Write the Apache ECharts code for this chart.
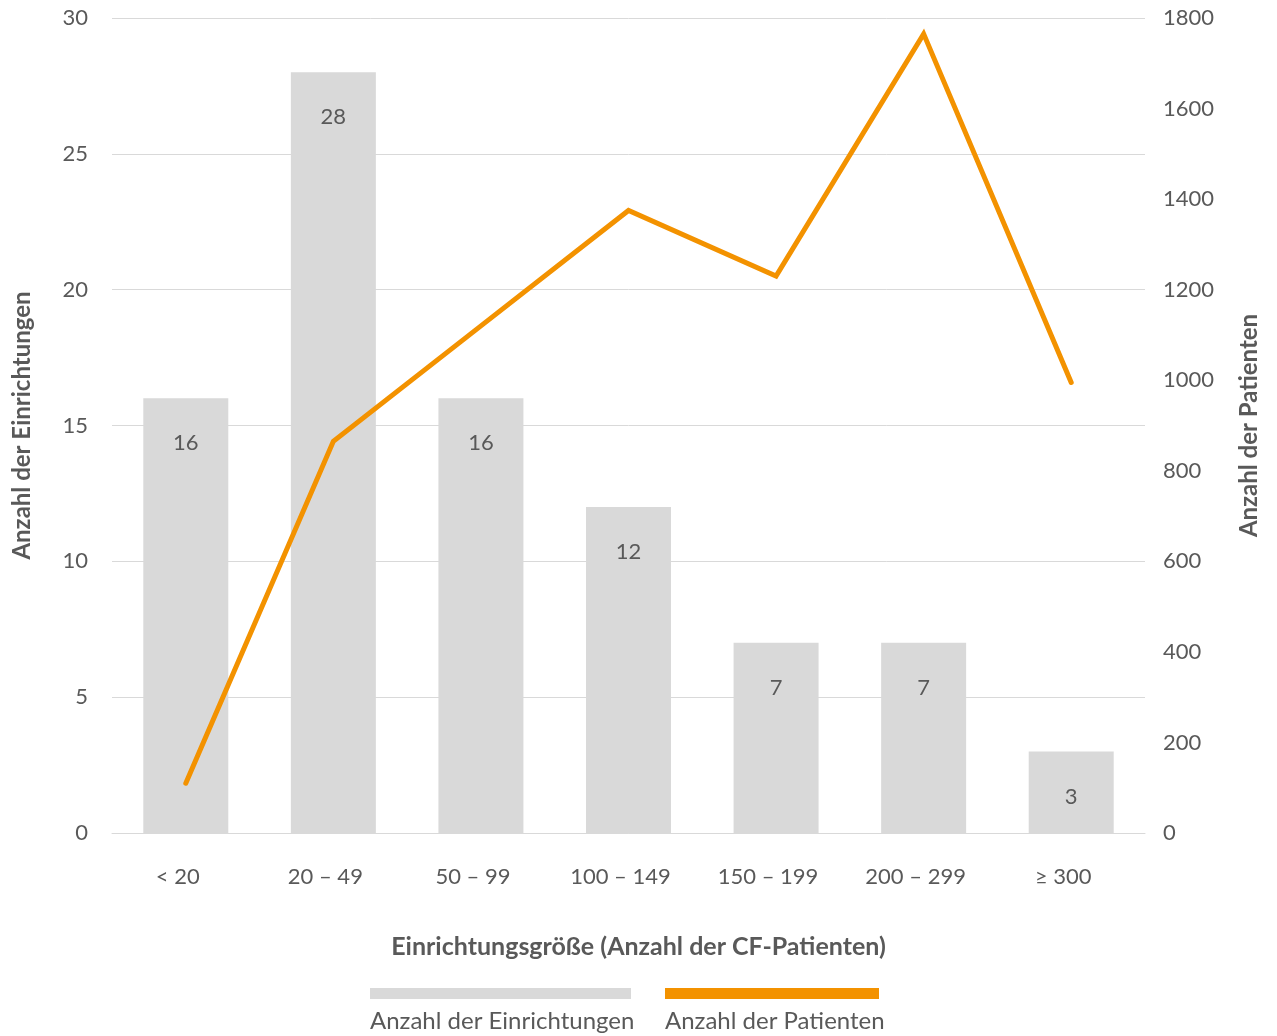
<!DOCTYPE html>
<html>
<head>
<meta charset="utf-8">
<script src="https://cdn.jsdelivr.net/npm/echarts@6/dist/echarts.min.js"></script>
<style>
  html, body { margin: 0; padding: 0; background: #ffffff; }
  #chart { width: 1277px; height: 1036px; }
</style>
</head>
<body>
<div id="chart"></div>
<script>
// Einrichtungsgröße (Anzahl der CF-Patienten)
const categories = ['< 20', '20 – 49', '50 – 99', '100 – 149', '150 – 199', '200 – 299', '≥ 300'];
// Anzahl der Einrichtungen je Größenklasse (linke Achse)
const einrichtungen = [16, 28, 16, 12, 7, 7, 3];
// Anzahl der Patienten je Größenklasse (rechte Achse)
const patienten = [110, 865, 1120, 1375, 1230, 1765, 995];

const seriesNames = ['Anzahl der Einrichtungen', 'Anzahl der Patienten'];

const FONT = 'Lato, "Open Sans", sans-serif';
const TEXT = '#595959';
const GRAY = '#d9d9d9';
const ORANGE = '#f39200';

const chart = echarts.init(document.getElementById('chart'), null, { renderer: 'canvas' });

chart.setOption({
  backgroundColor: '#ffffff',
  animation: false,
  textStyle: { fontFamily: FONT, color: TEXT },
  grid: { left: 112, right: 132, top: 18, bottom: 203, containLabel: false },
  legend: [
    {
      data: [seriesNames[0]],
      left: 370, top: 988, padding: 0,
      icon: 'rect', itemWidth: 261, itemHeight: 11, itemGap: 0,
      selectedMode: false,
      formatter: () => '',
      itemStyle: { borderWidth: 0 },
      textStyle: { fontSize: 1 }
    },
    {
      data: [seriesNames[1]],
      left: 665, top: 988, padding: 0,
      icon: 'rect', itemWidth: 214, itemHeight: 11, itemGap: 0,
      selectedMode: false,
      formatter: () => '',
      itemStyle: { borderWidth: 0 },
      lineStyle: { width: 0 },
      textStyle: { fontSize: 1 }
    }
  ],
  graphic: [
    { type: 'text', left: 370, top: 1009,
      style: { text: seriesNames[0], fill: TEXT, font: '24px ' + FONT } },
    { type: 'text', left: 665, top: 1009,
      style: { text: seriesNames[1], fill: TEXT, font: '24px ' + FONT } }
  ],
  xAxis: {
    type: 'category',
    data: categories,
    name: 'Einrichtungsgröße (Anzahl der CF-Patienten)',
    nameLocation: 'middle',
    nameGap: 101,
    nameTextStyle: { fontSize: 25, fontWeight: 'bold', color: TEXT, fontFamily: FONT, padding: [0, 0, 0, 20] },
    axisLine: { show: true, lineStyle: { color: GRAY, width: 1 } },
    axisTick: { show: false },
    axisLabel: { fontSize: 22, color: TEXT, margin: 33, fontFamily: FONT, padding: [0, 16, 0, 0] }
  },
  yAxis: [
    {
      type: 'value',
      min: 0, max: 30, interval: 5,
      name: 'Anzahl der Einrichtungen',
      nameLocation: 'middle',
      nameGap: 78,
      nameTextStyle: { fontSize: 24, fontWeight: 'bold', color: TEXT, fontFamily: FONT },
      axisLine: { show: false },
      axisTick: { show: false },
      axisLabel: { fontSize: 22, color: TEXT, margin: 24, fontFamily: FONT, padding: [8, 0, 0, 0] },
      splitLine: { show: true, lineStyle: { color: GRAY, width: 1 } }
    },
    {
      type: 'value',
      min: 0, max: 1800, interval: 200,
      name: 'Anzahl der Patienten',
      nameLocation: 'middle',
      nameGap: 92,
      nameRotate: 90,
      nameTextStyle: { fontSize: 24, fontWeight: 'bold', color: TEXT, fontFamily: FONT },
      axisLine: { show: false },
      axisTick: { show: false },
      axisLabel: { fontSize: 22, color: TEXT, margin: 18, fontFamily: FONT, formatter: v => String(v) },
      splitLine: { show: false }
    }
  ],
  series: [
    {
      name: seriesNames[0],
      type: 'bar',
      yAxisIndex: 0,
      data: einrichtungen,
      barWidth: 85,
      itemStyle: { color: GRAY },
      label: {
        show: true, position: 'insideTop', distance: 34,
        fontSize: 22, color: TEXT, fontFamily: FONT
      },
      z: 2
    },
    {
      name: seriesNames[1],
      type: 'line',
      yAxisIndex: 1,
      data: patienten,
      symbol: 'none',
      showSymbol: false,
      itemStyle: { color: ORANGE },
      lineStyle: { color: ORANGE, width: 5, cap: 'round', join: 'miter' },
      z: 3
    }
  ]
});
</script>
</body>
</html>
